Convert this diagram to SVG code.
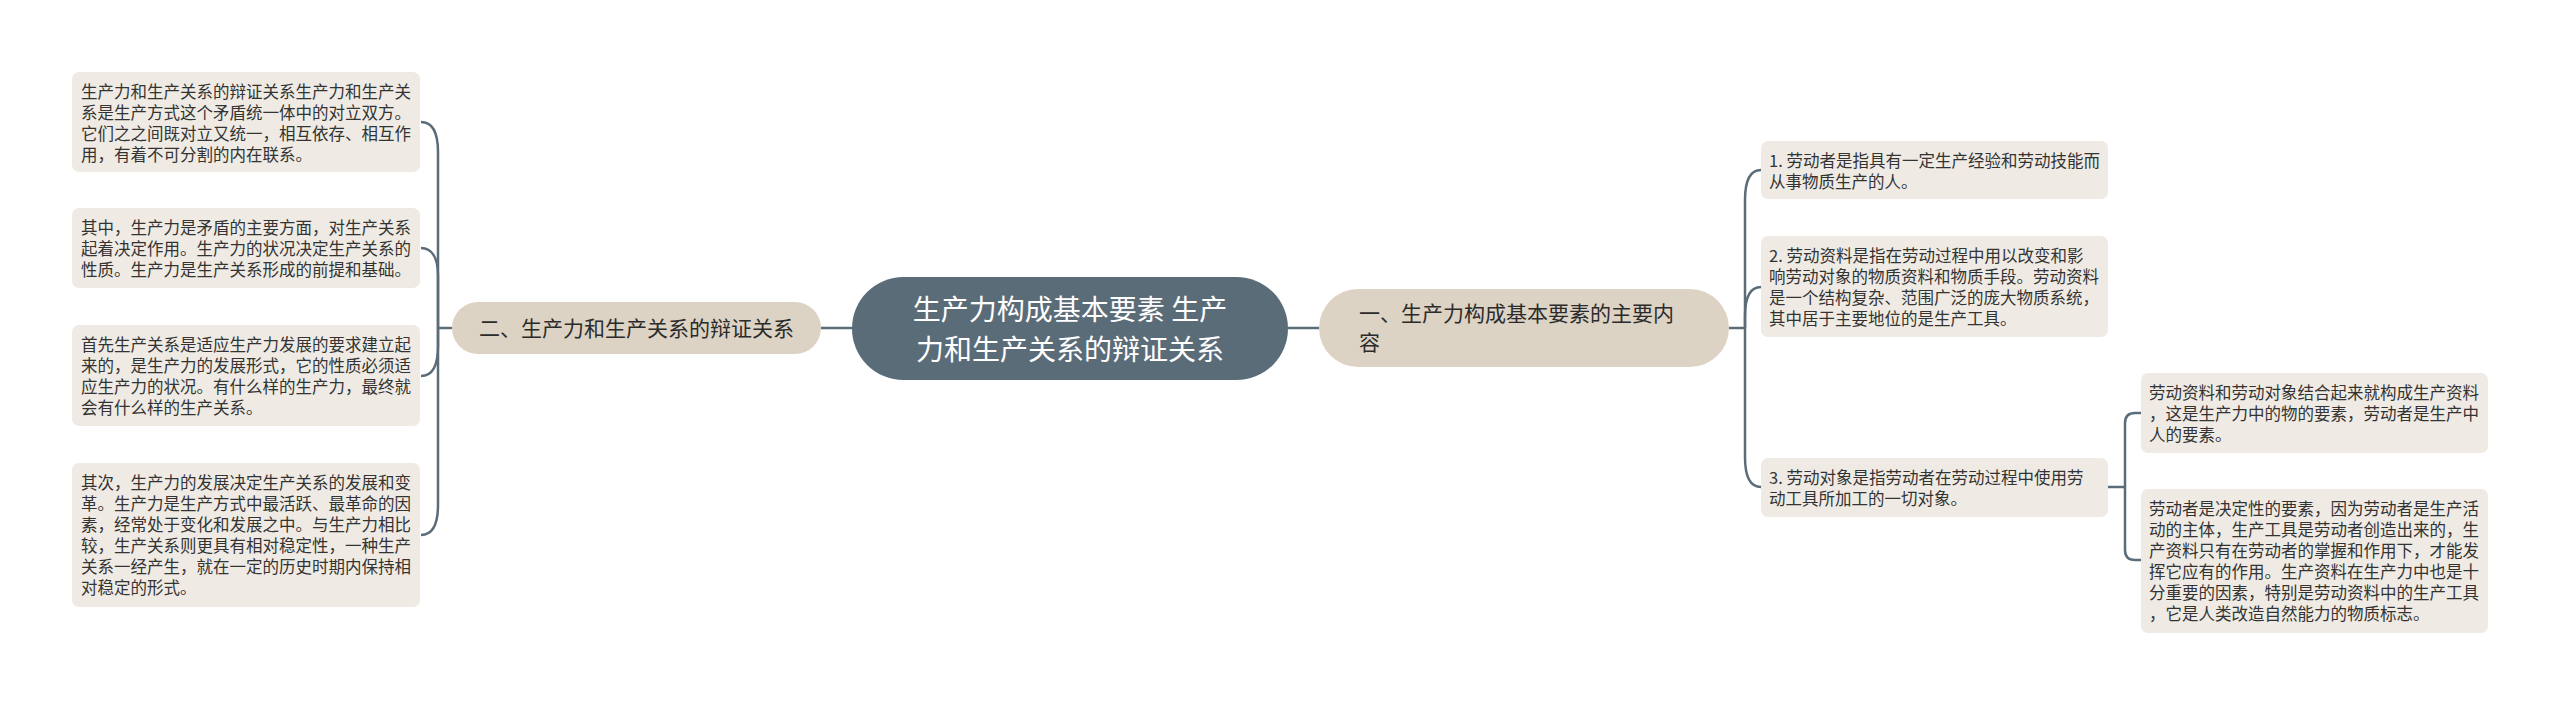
<svg xmlns="http://www.w3.org/2000/svg" width="2560" height="705" viewBox="0 0 2560 705">
<style>
text{font-family:"Noto Sans CJK SC","Noto Sans",sans-serif;}
.box{fill:#efebe4;}
.bt{font-size:16.5px;fill:#333333;}
.br{fill:#ddd3c4;}
.brt{font-size:21px;fill:#2b2b2b;}
.ct{font-size:28px;fill:#ffffff;}
.ln{fill:none;stroke:#5b6c79;stroke-width:2.5;}
</style>
<rect width="2560" height="705" fill="#ffffff"/>
<g id="connectors">
<path class="ln" d="M852,328 L821,328"/>
<path class="ln" d="M1288,328 L1319,328"/>
<path class="ln" d="M452,328 L438,328"/>
<path class="ln" d="M438,328 L438,152 C438,132 432,122 421,122"/>
<path class="ln" d="M438,328 L438,276 C438,258 432,248 421,248"/>
<path class="ln" d="M438,328 L438,346 C438,366 432,376 421,376"/>
<path class="ln" d="M438,328 L438,505 C438,525 432,535 421,535"/>
<path class="ln" d="M1729,328 L1745,328"/>
<path class="ln" d="M1745,328 L1745,200 C1745,180 1751,170 1761,170"/>
<path class="ln" d="M1745,328 L1745,316 C1745,296 1751,287 1761,287"/>
<path class="ln" d="M1745,328 L1745,457 C1745,477 1751,487 1761,487"/>
<path class="ln" d="M2108,487 L2125,487"/>
<path class="ln" d="M2125,487 L2125,423 Q2125,413 2135,413 L2141,413"/>
<path class="ln" d="M2125,487 L2125,550 Q2125,560 2135,560 L2141,560"/>
</g>
<g id="center">
<rect x="852" y="277" width="436" height="103" rx="51.5" fill="#5b6c79"/>
<text class="ct" x="1070" y="320" text-anchor="middle">生产力构成基本要素 生产</text>
<text class="ct" x="1070" y="360" text-anchor="middle">力和生产关系的辩证关系</text>
</g>
<g id="branch-left">
<rect class="br" x="452" y="302" width="369" height="52" rx="26"/>
<text class="brt" x="636.5" y="335.5" text-anchor="middle">二、生产力和生产关系的辩证关系</text>
</g>
<g id="branch-right">
<rect class="br" x="1319" y="289" width="410" height="78" rx="39"/>
<text class="brt" x="1359" y="321">一、生产力构成基本要素的主要内</text>
<text class="brt" x="1359" y="350">容</text>
</g>
<g id="left-1">
<rect class="box" x="72" y="72" width="348" height="100" rx="7"/>
<text class="bt" x="81" y="98"><tspan x="81">生产力和生产关系的辩证关系生产力和生产关</tspan><tspan x="81" dy="21">系是生产方式这个矛盾统一体中的对立双方。</tspan><tspan x="81" dy="21">它们之之间既对立又统一，相互依存、相互作</tspan><tspan x="81" dy="21">用，有着不可分割的内在联系。</tspan></text>
</g>
<g id="left-2">
<rect class="box" x="72" y="208" width="348" height="80" rx="7"/>
<text class="bt" x="81" y="234"><tspan x="81">其中，生产力是矛盾的主要方面，对生产关系</tspan><tspan x="81" dy="21">起着决定作用。生产力的状况决定生产关系的</tspan><tspan x="81" dy="21">性质。生产力是生产关系形成的前提和基础。</tspan></text>
</g>
<g id="left-3">
<rect class="box" x="72" y="325" width="348" height="101" rx="7"/>
<text class="bt" x="81" y="351"><tspan x="81">首先生产关系是适应生产力发展的要求建立起</tspan><tspan x="81" dy="21">来的，是生产力的发展形式，它的性质必须适</tspan><tspan x="81" dy="21">应生产力的状况。有什么样的生产力，最终就</tspan><tspan x="81" dy="21">会有什么样的生产关系。</tspan></text>
</g>
<g id="left-4">
<rect class="box" x="72" y="463" width="348" height="144" rx="7"/>
<text class="bt" x="81" y="489"><tspan x="81">其次，生产力的发展决定生产关系的发展和变</tspan><tspan x="81" dy="21">革。生产力是生产方式中最活跃、最革命的因</tspan><tspan x="81" dy="21">素，经常处于变化和发展之中。与生产力相比</tspan><tspan x="81" dy="21">较，生产关系则更具有相对稳定性，一种生产</tspan><tspan x="81" dy="21">关系一经产生，就在一定的历史时期内保持相</tspan><tspan x="81" dy="21">对稳定的形式。</tspan></text>
</g>
<g id="right-1">
<rect class="box" x="1761" y="141" width="347" height="58" rx="7"/>
<text class="bt" x="1769" y="167"><tspan x="1769">1. 劳动者是指具有一定生产经验和劳动技能而</tspan><tspan x="1769" dy="21">从事物质生产的人。</tspan></text>
</g>
<g id="right-2">
<rect class="box" x="1761" y="236" width="347" height="101" rx="7"/>
<text class="bt" x="1769" y="262"><tspan x="1769">2. 劳动资料是指在劳动过程中用以改变和影</tspan><tspan x="1769" dy="21">响劳动对象的物质资料和物质手段。劳动资料</tspan><tspan x="1769" dy="21">是一个结构复杂、范围广泛的庞大物质系统，</tspan><tspan x="1769" dy="21">其中居于主要地位的是生产工具。</tspan></text>
</g>
<g id="right-3">
<rect class="box" x="1761" y="458" width="347" height="59" rx="7"/>
<text class="bt" x="1769" y="484"><tspan x="1769">3. 劳动对象是指劳动者在劳动过程中使用劳</tspan><tspan x="1769" dy="21">动工具所加工的一切对象。</tspan></text>
</g>
<g id="right-3-1">
<rect class="box" x="2141" y="373" width="347" height="80" rx="7"/>
<text class="bt" x="2149" y="399"><tspan x="2149">劳动资料和劳动对象结合起来就构成生产资料</tspan><tspan x="2149" dy="21">，这是生产力中的物的要素，劳动者是生产中</tspan><tspan x="2149" dy="21">人的要素。</tspan></text>
</g>
<g id="right-3-2">
<rect class="box" x="2141" y="489" width="347" height="144" rx="7"/>
<text class="bt" x="2149" y="515"><tspan x="2149">劳动者是决定性的要素，因为劳动者是生产活</tspan><tspan x="2149" dy="21">动的主体，生产工具是劳动者创造出来的，生</tspan><tspan x="2149" dy="21">产资料只有在劳动者的掌握和作用下，才能发</tspan><tspan x="2149" dy="21">挥它应有的作用。生产资料在生产力中也是十</tspan><tspan x="2149" dy="21">分重要的因素，特别是劳动资料中的生产工具</tspan><tspan x="2149" dy="21">，它是人类改造自然能力的物质标志。</tspan></text>
</g>
</svg>
